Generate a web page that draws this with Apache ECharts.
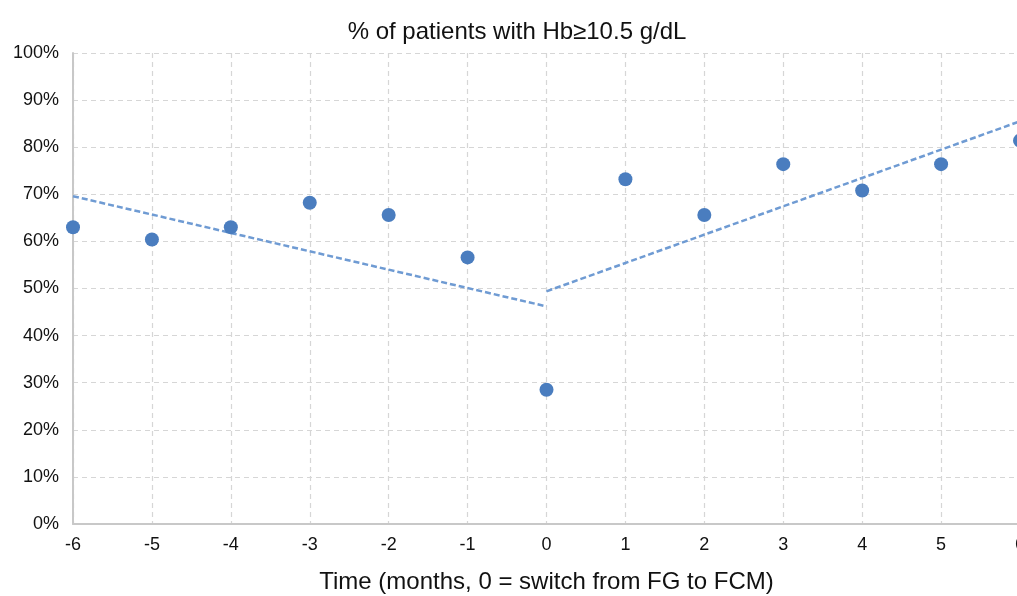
<!DOCTYPE html>
<html>
<head>
<meta charset="utf-8">
<script src="https://cdn.jsdelivr.net/npm/echarts@6/dist/echarts.min.js"></script>
<style>
  html, body { margin: 0; padding: 0; background: #fff; }
  #chart { width: 1017px; height: 596px; }
</style>
</head>
<body>
<div id="chart"></div>
<script>
// months relative to switch (0 = switch from FG to FCM)
var months = [-6, -5, -4, -3, -2, -1, 0, 1, 2, 3, 4, 5, 6];
// % of patients with Hb >= 10.5 g/dL
var pctPatients = [63.0, 60.4, 63.0, 68.2, 65.6, 56.6, 28.5, 73.2, 65.6, 76.4, 70.8, 76.4, 81.4];
// trend lines (end points)
var trendBefore = [[-6, 69.6], [0, 46.2]];
var trendAfter = [[0, 49.4], [6, 85.5]];
var yTicks = [0, 10, 20, 30, 40, 50, 60, 70, 80, 90, 100];

var points = months.map(function (m, i) { return [m, pctPatients[i]]; });

var chart = echarts.init(document.getElementById("chart"));
var trendStyle = { color: "#6f9bd3", width: 2.5, type: [6, 3] };

chart.setOption({
  animation: false,
  title: {
    text: "% of patients with Hb\u226510.5 g/dL",
    left: 512,
    textAlign: "center",
    top: 15,
    textStyle: { fontFamily: "Liberation Sans", fontSize: 24, fontWeight: "normal", color: "#111" }
  },
  grid: { left: 73, right: -3, top: 53, bottom: 72, outerBoundsMode: "none", containLabel: false },
  xAxis: {
    type: "value",
    min: -6,
    max: 6,
    interval: 1,
    name: "Time (months, 0 = switch from FG to FCM)",
    nameLocation: "middle",
    nameGap: 46,
    nameTextStyle: { fontFamily: "Liberation Sans", fontSize: 24, color: "#111" },
    axisLine: { onZero: false, lineStyle: { color: "#c8c8c8", width: 2 } },
    axisTick: { show: false },
    axisLabel: { fontFamily: "Liberation Sans", fontSize: 18, color: "#111", margin: 12 },
    splitLine: { show: true, lineStyle: { color: "#d6d6d6", type: [5, 4], width: 1.2 } }
  },
  yAxis: {
    type: "value",
    min: yTicks[0],
    max: yTicks[yTicks.length - 1],
    interval: 10,
    axisLine: { show: true, onZero: false, lineStyle: { color: "#c8c8c8", width: 2 } },
    axisTick: { show: false },
    axisLabel: { fontFamily: "Liberation Sans", fontSize: 18, color: "#111", margin: 14, formatter: "{value}%" },
    splitLine: { show: true, lineStyle: { color: "#d6d6d6", type: [5, 4], width: 1.2 } }
  },
  series: [
    {
      type: "line",
      data: trendBefore,
      symbol: "none",
      lineStyle: trendStyle,
      z: 2
    },
    {
      type: "line",
      data: trendAfter,
      symbol: "none",
      lineStyle: trendStyle,
      z: 2
    },
    {
      type: "scatter",
      data: points,
      symbolSize: 14,
      itemStyle: { color: "#4a7dbf", opacity: 1 },
      z: 3
    }
  ]
});
</script>
</body>
</html>
